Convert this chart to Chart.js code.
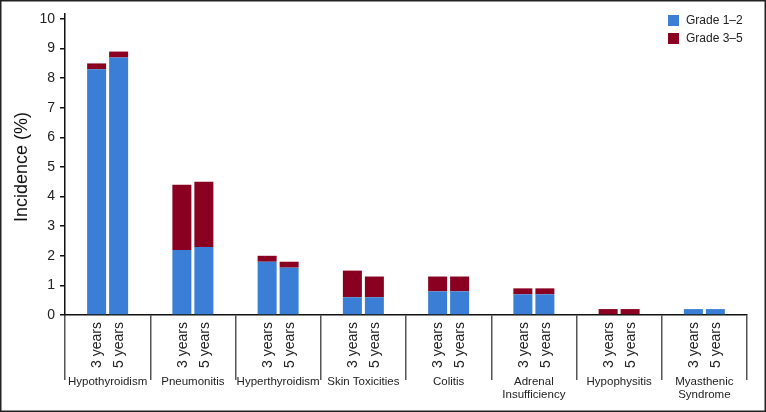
<!DOCTYPE html>
<html>
<head>
<meta charset="utf-8">
<script src="https://cdn.jsdelivr.net/npm/chart.js@4"></script>
<style>
html,body{margin:0;padding:0;background:#fff;}
canvas{display:block;}
</style>
</head>
<body>
<canvas id="c" width="766" height="412"></canvas>
<script>
const categories = ['Hypothyroidism','Pneumonitis','Hyperthyroidism','Skin Toxicities','Colitis',['Adrenal','Insufficiency'],'Hypophysitis',['Myasthenic','Syndrome']];
const periods = ['3 years','5 years'];
const grade12_3y = [8.3, 2.2, 1.8, 0.6, 0.8, 0.7, 0, 0.2];
const grade35_3y = [0.2, 2.2, 0.2, 0.9, 0.5, 0.2, 0.2, 0];
const grade12_5y = [8.7, 2.3, 1.6, 0.6, 0.8, 0.7, 0, 0.2];
const grade35_5y = [0.2, 2.2, 0.2, 0.7, 0.5, 0.2, 0.2, 0];
const yTicks = [0,1,2,3,4,5,6,7,8,9,10];
const seriesNames = ['Grade 1–2','Grade 3–5'];

const BLUE = '#3a7fd5';
const RED = '#890021';
const FONT = '"Liberation Sans", Arial, Helvetica, sans-serif';

const common = {categoryPercentage: 0.516, barPercentage: 0.864, borderWidth: 0};

const overlay = {
  id: 'overlay',
  afterDraw(chart) {
    const ctx = chart.ctx;
    const xs = chart.scales.x;
    const area = chart.chartArea;
    ctx.save();
    ctx.fillStyle = '#222';
    // period labels
    ctx.font = '14px ' + FONT;
    [0, 2].forEach((di, pi) => {
      const meta = chart.getDatasetMeta(di);
      meta.data.forEach(bar => {
        ctx.save();
        ctx.translate(bar.x, area.bottom + 7);
        ctx.rotate(-Math.PI / 2);
        ctx.textAlign = 'right';
        ctx.textBaseline = 'middle';
        ctx.fillText(periods[pi], 0, 1);
        ctx.restore();
      });
    });
    // group labels
    ctx.font = '11.5px ' + FONT;
    ctx.textAlign = 'center';
    ctx.textBaseline = 'middle';
    categories.forEach((c, i) => {
      const lines = Array.isArray(c) ? c : [c];
      const cx = xs.getPixelForValue(i);
      lines.forEach((ln, k) => ctx.fillText(ln, cx, area.bottom + 67 + k * 13));
    });
    // legend
    const cols = [BLUE, RED];
    ctx.font = '12px ' + FONT;
    ctx.textAlign = 'left';
    seriesNames.forEach((n, k) => {
      const y = 15 + k * 18;
      ctx.fillStyle = cols[k];
      ctx.fillRect(668, y, 11, 11);
      ctx.fillStyle = '#222';
      ctx.fillText(n, 686, y + 6);
    });
    // y axis title
    ctx.save();
    ctx.translate(22, 167);
    ctx.rotate(-Math.PI / 2);
    ctx.font = '18px ' + FONT;
    ctx.textAlign = 'center';
    ctx.textBaseline = 'middle';
    ctx.fillStyle = '#111';
    ctx.fillText('Incidence (%)', 0, 0);
    ctx.restore();
    // frame
    ctx.strokeStyle = '#222';
    ctx.lineWidth = 1.5;
    ctx.strokeRect(0.75, 0.75, chart.width - 1.5, chart.height - 1.5);
    ctx.restore();
  }
};

new Chart(document.getElementById('c'), {
  type: 'bar',
  data: {
    labels: categories,
    datasets: [
      {label: seriesNames[0], data: grade12_3y, backgroundColor: BLUE, stack: 'y3', ...common},
      {label: seriesNames[1], data: grade35_3y, backgroundColor: RED, stack: 'y3', ...common},
      {label: seriesNames[0], data: grade12_5y, backgroundColor: BLUE, stack: 'y5', ...common},
      {label: seriesNames[1], data: grade35_5y, backgroundColor: RED, stack: 'y5', ...common}
    ]
  },
  options: {
    responsive: false,
    animation: false,
    devicePixelRatio: 1,
    layout: {padding: {left: 0, top: 14, right: 19, bottom: 0}},
    plugins: {legend: {display: false}, tooltip: {enabled: false}},
    scales: {
      x: {
        stacked: true,
        offset: true,
        grid: {offset: true, drawOnChartArea: false, drawTicks: true, tickLength: 65, color: '#555', lineWidth: 1.5},
        border: {display: true, color: '#111', width: 1.5},
        ticks: {display: true, color: 'rgba(0,0,0,0)', callback: () => ''},
        afterFit(s) { s.height = 97; }
      },
      y: {
        stacked: true,
        min: 0,
        max: 10.17,
        afterBuildTicks(s) { s.ticks = yTicks.map(v => ({value: v})); },
        grid: {drawOnChartArea: false, drawTicks: true, tickLength: 5, color: '#111', lineWidth: 1.5},
        border: {display: true, color: '#111', width: 1.5},
        ticks: {color: '#222', font: {size: 14, family: FONT}, padding: 5},
        afterFit(s) { s.width = 65; }
      }
    }
  },
  plugins: [overlay]
});
</script>
</body>
</html>
